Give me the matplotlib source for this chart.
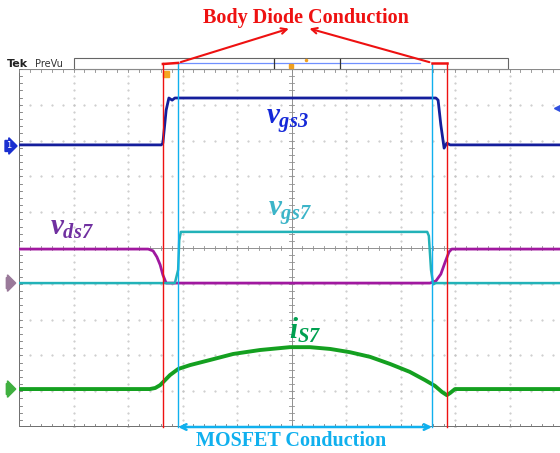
import numpy as np
import matplotlib.pyplot as plt

plt.rcParams['mathtext.fontset'] = 'custom'
plt.rcParams['mathtext.it'] = 'Liberation Serif:italic:bold'
plt.rcParams['mathtext.rm'] = 'Liberation Serif:italic:bold'

# time in divisions, amplitude in divisions (scope screen 10 x 10)
t_vgs3 = [0, 2.61, 2.64, 2.70, 2.75, 2.81, 2.86, 7.65, 7.69, 7.74, 7.80, 7.85, 7.91, 10]
vgs3 = [7.88, 7.88, 7.93, 8.85, 9.19, 9.13, 9.19, 9.19, 9.13, 8.44, 7.79, 7.93, 7.88, 7.88]

t_vds7 = [0, 2.37, 2.46, 2.53, 2.59, 2.64, 2.70, 7.54, 7.65, 7.74, 7.82, 7.89, 7.94, 10]
vds7 = [4.97, 4.97, 4.92, 4.75, 4.53, 4.25, 4.02, 4.02, 4.08, 4.27, 4.61, 4.89, 4.97, 4.97]

t_vgs7 = [0, 2.86, 2.92, 2.94, 2.97, 7.49, 7.52, 7.56, 7.60, 7.65, 10]
vgs7 = [4.02, 4.02, 4.39, 5.22, 5.45, 5.45, 5.34, 4.39, 3.99, 4.02, 4.02]

t_is7 = [0, 2.40, 2.50, 2.59, 2.68, 2.77, 2.92, 3.14, 3.50, 3.93, 4.42, 4.97, 5.34,
         5.71, 6.07, 6.44, 6.81, 7.17, 7.45, 7.63, 7.76, 7.85, 7.91, 8.0, 10]
is7 = [1.06, 1.06, 1.09, 1.17, 1.31, 1.45, 1.62, 1.73, 1.87, 2.04, 2.15, 2.23, 2.23,
       2.18, 2.09, 1.96, 1.76, 1.54, 1.31, 1.15, 0.98, 0.89, 0.95, 1.06, 1.06]

# conduction interval edges (divisions)
diode_edges = [2.64, 7.85]
mosfet_edges = [2.92, 7.58]

RED = '#ee1111'
CYAN = '#10b0ee'


def draw_graticule(ax):
    for k in range(1, 10):
        if k == 5:
            continue
        ax.plot([k] * 51, np.linspace(0, 10, 51), ls='none', marker='.', ms=1.0,
                color='#c4c4c4')
        ax.plot(np.linspace(0, 10, 51), [k] * 51, ls='none', marker='.', ms=1.0,
                color='#c4c4c4')
    ax.axvline(5, color='#909090', lw=0.7)
    ax.axhline(5, color='#909090', lw=0.7)
    ax.axhline(10, color='#8a8a8a', lw=0.8)
    ax.axhline(0, color='#555555', lw=1.2)
    ax.axvline(0, color='#555555', lw=1.2)
    minor = np.arange(0, 10.01, 0.2)
    for m in minor:
        ax.plot([m, m], [4.94, 5.06], color='#909090', lw=0.6)
        ax.plot([4.96, 5.04], [m, m], color='#909090', lw=0.6)
        ax.plot([m, m], [0, 0.07], color='#777777', lw=0.6)
        ax.plot([m, m], [9.93, 10], color='#8a8a8a', lw=0.6)
        ax.plot([0, 0.05], [m, m], color='#777777', lw=0.6)


def draw_scope_header(ax):
    ax.add_patch(plt.Rectangle((1.0, 10), 7.97, 0.31, fill=False, ec='#666666',
                               lw=0.8, clip_on=False))
    ax.plot([2.92, 7.36], [10.17, 10.17], color='#7090ff', lw=0.9, clip_on=False)
    for xb in [4.68, 5.89]:
        ax.plot([xb, xb], [10.03, 10.29], color='#333333', lw=0.9, clip_on=False)
    ax.plot([4.99], [10.08], marker='s', ms=3.5, color='#f0a020', clip_on=False)
    ax.plot([5.27], [10.24], marker='o', ms=1.5, color='#f0a020', clip_on=False)
    ax.text(-0.22, 10.14, 'Tek', fontsize=8, fontweight='bold', color='#222222',
            va='center', clip_on=False)
    ax.text(0.3, 10.14, 'PreVu', fontsize=7, color='#333333', va='center',
            clip_on=False)
    ax.plot([2.7], [9.86], marker='s', ms=4, color='#f5a623', clip_on=False)
    ax.plot([9.88], [8.91], marker='<', ms=4.5, color='#3050e0', clip_on=False)
    for yv, col in [(7.85, '#1a2fd0'), (4.02, '#9a7a9a'), (1.06, '#40b040')]:
        ax.text(-0.19, yv, '1' if yv > 7 else ' ', fontsize=6, color='white',
                ha='center', va='center', clip_on=False,
                bbox=dict(boxstyle='rarrow,pad=0.12', fc=col, ec=col))


def main():
    fig = plt.figure(figsize=(5.6, 4.53), dpi=100)
    ax = fig.add_axes([19 / 560, 26 / 453, 545 / 560, 358 / 453])
    ax.set_xlim(0, 10)
    ax.set_ylim(0, 10)
    ax.axis('off')

    draw_graticule(ax)
    draw_scope_header(ax)

    ax.plot(t_vds7, vds7, color='#a0189f', lw=2.0)
    ax.plot(t_vgs7, vgs7, color='#22b2b8', lw=1.8)
    ax.plot(t_vgs3, vgs3, color='#141e9c', lw=2.0)
    ax.plot(t_is7, is7, color='#14a020', lw=2.8)

    # conduction markers
    for xe in diode_edges:
        ax.plot([xe, xe], [0, 10.17], color=RED, lw=1.0, clip_on=False)
    for xe in mosfet_edges:
        ax.plot([xe, xe], [0, 10.14], color=CYAN, lw=1.0, clip_on=False)
    ax.plot([diode_edges[0], mosfet_edges[0]], [10.14, 10.17], color=RED, lw=1.8,
            clip_on=False)
    ax.plot([mosfet_edges[1], diode_edges[1]], [10.17, 10.17], color=RED, lw=1.8,
            clip_on=False)

    ax.text(5.27, 11.42, 'Body Diode Conduction', color=RED, fontsize=14.5,
            fontweight='bold', family='Liberation Serif', ha='center', va='center')
    ax.annotate('', xy=(5.0, 11.15), xytext=(mosfet_edges[0], 10.17),
                arrowprops=dict(arrowstyle='->', color=RED, lw=1.5), annotation_clip=False)
    ax.annotate('', xy=(5.28, 11.15), xytext=(mosfet_edges[1], 10.17),
                arrowprops=dict(arrowstyle='->', color=RED, lw=1.5), annotation_clip=False)

    ax.annotate('', xy=(mosfet_edges[0], 0), xytext=(mosfet_edges[1], 0),
                arrowprops=dict(arrowstyle='<->', color=CYAN, lw=1.8,
                                shrinkA=0, shrinkB=0), annotation_clip=False)
    ax.text(5.0, -0.4, 'MOSFET Conduction', color=CYAN, fontsize=14.5,
            fontweight='bold', family='Liberation Serif', ha='center', va='center')

    # trace labels
    ax.text(4.92, 8.55, r'$v_{gs3}$', color='#1428d8', fontsize=21, ha='center', va='center')
    ax.text(4.97, 5.98, r'$v_{gs7}$', color='#3cb4c8', fontsize=21, ha='center', va='center')
    ax.text(0.97, 5.59, r'$v_{ds7}$', color='#7030a0', fontsize=21, ha='center', va='center')
    ax.text(5.25, 2.71, r'$i_{S7}$', color='#00a050', fontsize=21, ha='center', va='center')

    fig.savefig('out.png', dpi=100, facecolor='white')


if __name__ == "__main__":
    main()
